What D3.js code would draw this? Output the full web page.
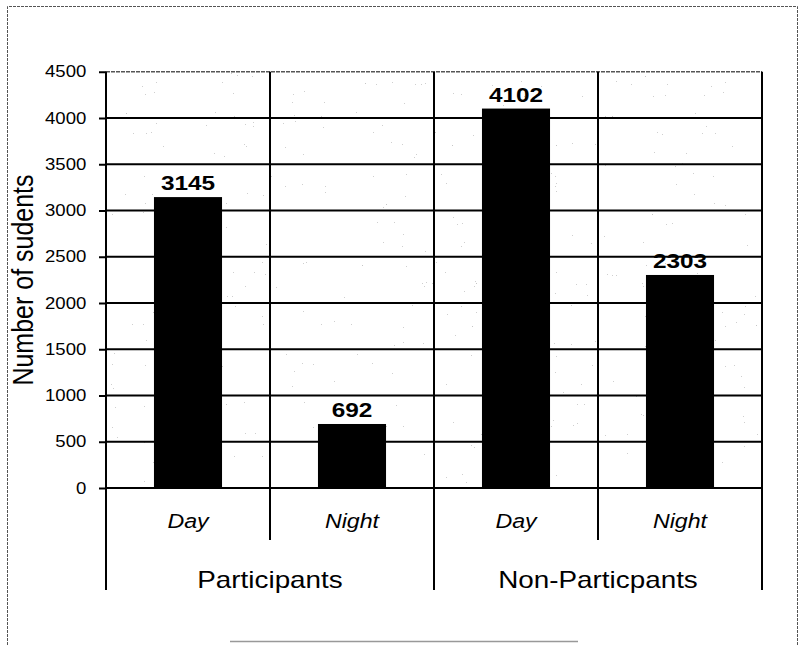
<!DOCTYPE html>
<html>
<head>
<meta charset="utf-8">
<script src="https://cdn.jsdelivr.net/npm/d3@7"></script>
<style>
  html, body { margin: 0; padding: 0; background: #fff; }
  svg { display: block; }
  text { font-family: "Liberation Sans", Arial, sans-serif; fill: #000; }
</style>
</head>
<body>
<svg id="chart" width="799" height="645"></svg>
<script>
// Students per group and shift
const groups = ["Participants", "Non-Particpants"];
const shifts = ["Day", "Night"];
const students = [
  [3145, 692],   // Participants: Day, Night
  [4102, 2303]   // Non-Particpants: Day, Night
];
const yTicks = [0, 500, 1000, 1500, 2000, 2500, 3000, 3500, 4000, 4500];
const yTitle = "Number of sudents";

// Layout
const W = 799, H = 645;
const plot = { left: 106, right: 762, top: 71.75, bottom: 488 };
const shiftRuleBottom = 540;   // vertical rules between Day / Night labels
const groupRuleBottom = 590;   // vertical rules between groups
const SX = 1.16;               // horizontal text stretch

const svg = d3.select("#chart");

// Light printed-paper grain for the plot area
const defs = svg.append("defs");
const speck = defs.append("filter").attr("id", "speck")
  .attr("filterUnits", "userSpaceOnUse")
  .attr("x", plot.left).attr("y", plot.top)
  .attr("width", plot.right - plot.left).attr("height", plot.bottom - plot.top);
speck.append("feTurbulence")
  .attr("type", "fractalNoise").attr("baseFrequency", 0.9)
  .attr("numOctaves", 2).attr("seed", 7).attr("result", "n");
speck.append("feColorMatrix").attr("in", "n").attr("type", "matrix")
  .attr("values", "0 0 0 0 0.35  0 0 0 0 0.35  0 0 0 0 0.35  1 0 0 0 0");
speck.append("feComponentTransfer").append("feFuncA")
  .attr("type", "discrete").attr("tableValues", "0 0 0 0 0 0 0 0 0 0 0 0 0 0.5 0.6 0.6");

const x0 = d3.scaleBand().domain(groups).range([plot.left, plot.right]).padding(0);
const x1 = d3.scaleBand().domain(shifts).range([0, x0.bandwidth()]).padding(0);
const barFrac = 0.415;
const y = d3.scaleLinear().domain([0, 4500]).range([plot.bottom, plot.top]);

svg.append("rect")
  .attr("x", plot.left).attr("y", plot.top)
  .attr("width", plot.right - plot.left).attr("height", plot.bottom - plot.top)
  .attr("fill", "#fff")
  .attr("filter", "url(#speck)");

// Outer frame (left, top, right) and a stray bottom segment
const frame = svg.append("g").attr("fill", "none").attr("stroke", "#555").attr("stroke-width", 1);
frame.append("path")
  .attr("d", `M7.5,${H} L7.5,6.5 L797.5,6.5 L797.5,${H}`)
  .attr("stroke-dasharray", "3,1");
frame.append("line").attr("x1", 230).attr("x2", 578).attr("y1", 641.5).attr("y2", 641.5)
  .attr("stroke", "#999").attr("stroke-width", 1.5);

// Horizontal gridlines
const grid = svg.append("g");
grid.selectAll("line.h")
  .data(yTicks.filter(d => d > 0))
  .join("line")
  .attr("class", "h")
  .attr("x1", plot.left).attr("x2", plot.right)
  .attr("y1", d => y(d)).attr("y2", d => y(d))
  .attr("stroke", d => d === 4500 ? "#555" : "#000")
  .attr("stroke-width", d => d === 4500 ? 1.5 : 2.2)
  .attr("stroke-dasharray", d => d === 4500 ? "4,1" : null);

// Vertical rules between categories
const cells = [];
groups.forEach(g => shifts.forEach(s => cells.push({ g, s })));
const shiftEdges = groups.map(g => x0(g) + x1.bandwidth());
const groupEdges = groups.map(g => x0(g)).concat([plot.right]);

grid.selectAll("line.sv")
  .data(shiftEdges)
  .join("line")
  .attr("class", "sv")
  .attr("x1", d => d).attr("x2", d => d)
  .attr("y1", plot.top).attr("y2", shiftRuleBottom)
  .attr("stroke", "#000").attr("stroke-width", 2);

grid.selectAll("line.gv")
  .data(groupEdges)
  .join("line")
  .attr("class", "gv")
  .attr("x1", d => d).attr("x2", d => d)
  .attr("y1", plot.top).attr("y2", groupRuleBottom)
  .attr("stroke", "#000").attr("stroke-width", 2);

// Bars
const flat = [];
groups.forEach((g, gi) => shifts.forEach((s, si) => flat.push({ g, s, v: students[gi][si] })));
const bw = x1.bandwidth() * barFrac;
const cx = d => x0(d.g) + x1(d.s) + x1.bandwidth() / 2;

svg.append("g").selectAll("rect")
  .data(flat)
  .join("rect")
  .attr("x", d => cx(d) - bw / 2)
  .attr("width", bw)
  .attr("y", d => y(d.v))
  .attr("height", d => y(0) - y(d.v))
  .attr("fill", "#000");

// Value labels
svg.append("g").selectAll("text")
  .data(flat)
  .join("text")
  .attr("transform", d => `translate(${cx(d)},${y(d.v) - 7}) scale(${SX},1)`)
  .attr("text-anchor", "middle")
  .attr("font-size", 21)
  .attr("font-weight", "bold")
  .text(d => d.v);

// Y axis
const yAxis = svg.append("g")
  .attr("transform", `translate(${plot.left},0)`)
  .call(d3.axisLeft(y).tickValues(yTicks).tickSize(7).tickPadding(10).tickFormat(d3.format("d")));
yAxis.select(".domain").remove();
yAxis.selectAll(".tick line").attr("stroke", "#000").attr("stroke-width", 2);
yAxis.selectAll(".tick text")
  .attr("font-family", "Liberation Sans, Arial, sans-serif")
  .attr("font-size", 16)
  .attr("fill", "#000")
  .attr("transform", `scale(${SX},1)`);

// Axis line
svg.append("line")
  .attr("x1", plot.left).attr("x2", plot.right)
  .attr("y1", y(0)).attr("y2", y(0))
  .attr("stroke", "#000").attr("stroke-width", 2);

// Y title
svg.append("text")
  .attr("transform", `translate(33,280) scale(${SX},1) rotate(-90)`)
  .attr("text-anchor", "middle")
  .attr("font-size", 25)
  .text(yTitle);

// Category labels: shifts
svg.append("g").selectAll("text")
  .data(cells)
  .join("text")
  .attr("transform", d => `translate(${x0(d.g) + x1(d.s) + x1.bandwidth() / 2},528) scale(${SX},1)`)
  .attr("text-anchor", "middle")
  .attr("font-size", 20)
  .attr("font-style", "italic")
  .text(d => d.s);

// Category labels: groups
svg.append("g").selectAll("text")
  .data(groups)
  .join("text")
  .attr("transform", d => `translate(${x0(d) + x0.bandwidth() / 2},588) scale(${SX},1)`)
  .attr("text-anchor", "middle")
  .attr("font-size", 24)
  .text(d => d);
</script>
</body>
</html>
